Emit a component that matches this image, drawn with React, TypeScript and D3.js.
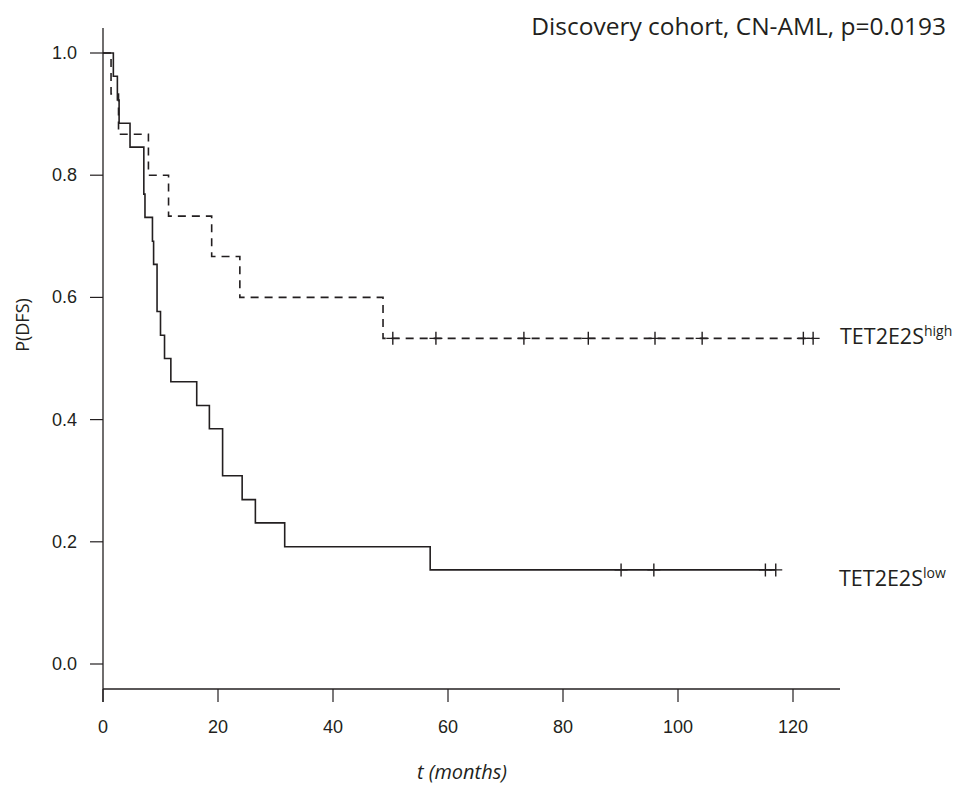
import React from "react";
import * as d3 from "d3";

// ---- Data ----
// TET2E2S low (solid): step times (months) and survival after each step
const lowTimes = [0, 1.8, 2.5, 2.8, 4.7, 7.1, 7.3, 8.6, 8.8, 9.4, 10.0, 10.7, 11.8, 16.3, 18.5, 20.8, 24.2, 26.5, 31.6, 56.9];
const lowSurv = [1, 0.962, 0.923, 0.885, 0.846, 0.769, 0.731, 0.692, 0.654, 0.577, 0.538, 0.5, 0.462, 0.423, 0.385, 0.308, 0.269, 0.231, 0.192, 0.154];
const lowCensor = [90.1, 95.8, 115.2, 117.0];
const lowEnd = 117.0;

// TET2E2S high (dashed)
const highTimes = [0, 1.4, 2.7, 7.9, 11.4, 18.9, 23.8, 48.7];
const highSurv = [1, 0.933, 0.867, 0.8, 0.733, 0.667, 0.6, 0.533];
const highCensor = [50.4, 57.9, 73.2, 84.4, 96.0, 104.2, 121.8, 123.5];
const highEnd = 123.5;

const xTicks = [0, 20, 40, 60, 80, 100, 120];
const yTicks = [0, 0.2, 0.4, 0.6, 0.8, 1.0];

const title = "Discovery cohort, CN-AML, p=0.0193";

const W = 963;
const H = 792;
const ink = "#231f20";

export default function App() {
  const x = d3.scaleLinear().domain([0, 120]).range([103, 793]);
  const y = d3.scaleLinear().domain([0, 1]).range([664, 53]);

  const mk = (times: number[], surv: number[], end: number) => {
    const pts: [number, number][] = times.map((t, i) => [t, surv[i]]);
    pts.push([end, surv[surv.length - 1]]);
    return d3
      .line<[number, number]>()
      .x((d) => x(d[0]))
      .y((d) => y(d[1]))
      .curve(d3.curveStepAfter)(pts) as string;
  };

  const survAt = (times: number[], surv: number[], t: number) => {
    let v = surv[0];
    for (let i = 0; i < times.length; i++) if (times[i] <= t) v = surv[i];
    return v;
  };

  const plus = (cx: number, cy: number) =>
    `M${cx - 6.5},${cy}H${cx + 6.5}M${cx},${cy - 6.5}V${cy + 6.5}`;

  const xAxisEnd = 840;

  return (
    <svg
      width={W}
      height={H}
      style={{ position: "absolute", left: 0, top: 0, background: "#fff" }}
    >
      {/* axes */}
      <line x1={x(0)} x2={x(0)} y1={28} y2={702} stroke={ink} strokeWidth={1.3} />
      <line x1={x(0)} x2={xAxisEnd} y1={689} y2={689} stroke={ink} strokeWidth={1.3} />
      {xTicks.map((t) => (
        <g key={"xt" + t}>
          <line x1={x(t)} x2={x(t)} y1={689} y2={702} stroke={ink} strokeWidth={1.2} />
          <text
            x={x(t)}
            y={727}
            textAnchor="middle"
            dominantBaseline="central"
            fontFamily="'Liberation Sans', Arial, sans-serif"
            fontSize={18}
            fill={ink}
          >
            {t}
          </text>
        </g>
      ))}
      {yTicks.map((t) => (
        <g key={"yt" + t}>
          <line x1={90} x2={x(0)} y1={y(t)} y2={y(t)} stroke={ink} strokeWidth={1.2} />
          <text
            x={77}
            y={y(t)}
            textAnchor="end"
            dominantBaseline="central"
            fontFamily="'Liberation Sans', Arial, sans-serif"
            fontSize={18}
            fill={ink}
          >
            {t.toFixed(1)}
          </text>
        </g>
      ))}

      {/* curves */}
      <path d={mk(highTimes, highSurv, highEnd)} fill="none" stroke={ink} strokeWidth={1.6} strokeDasharray="8,6" />
      <path d={mk(lowTimes, lowSurv, lowEnd)} fill="none" stroke={ink} strokeWidth={1.6} />
      {highCensor.map((t, i) => (
        <path key={"hc" + i} d={plus(x(t), y(survAt(highTimes, highSurv, t)))} stroke={ink} strokeWidth={1.4} fill="none" />
      ))}
      {lowCensor.map((t, i) => (
        <path key={"lc" + i} d={plus(x(t), y(survAt(lowTimes, lowSurv, t)))} stroke={ink} strokeWidth={1.4} fill="none" />
      ))}

      {/* labels */}
      <text x={840} y={344} fontFamily="'Open Sans', sans-serif" fontSize={21.5} fill={ink}>
        TET2E2S
        <tspan fontSize={14} dy={-8}>high</tspan>
      </text>
      <text x={839} y={586} fontFamily="'Open Sans', sans-serif" fontSize={21.5} fill={ink}>
        TET2E2S
        <tspan fontSize={14} dy={-8}>low</tspan>
      </text>

      <text x={946} y={35} textAnchor="end" fontFamily="'Open Sans', sans-serif" fontSize={24.5} fill={ink}>
        {title}
      </text>

      <text
        transform={`translate(22,325) rotate(-90)`}
        textAnchor="middle"
        dominantBaseline="central"
        fontFamily="'Open Sans', sans-serif"
        fontSize={18}
        fill={ink}
      >
        P(DFS)
      </text>
      <text
        x={462}
        y={779}
        textAnchor="middle"
        fontFamily="'Open Sans', sans-serif"
        fontStyle="italic"
        fontSize={20}
        fill={ink}
      >
        t (months)
      </text>
    </svg>
  );
}
